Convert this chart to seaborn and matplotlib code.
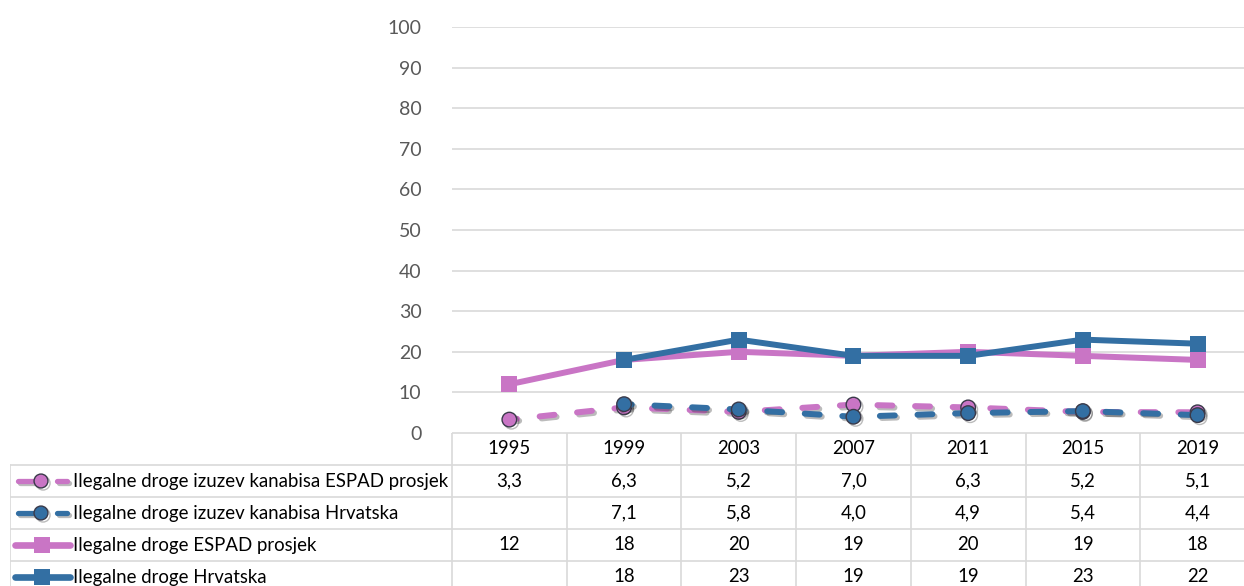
import numpy as np
import pandas as pd
import seaborn as sns
import matplotlib.pyplot as plt
from matplotlib import patheffects as pe
from matplotlib.lines import Line2D

# podaci
years = ["1995", "1999", "2003", "2007", "2011", "2015", "2019"]
espad_izuzev = [3.3, 6.3, 5.2, 7.0, 6.3, 5.2, 5.1]
hr_izuzev = [np.nan, 7.1, 5.8, 4.0, 4.9, 5.4, 4.4]
espad = [12, 18, 20, 19, 20, 19, 18]
hr = [np.nan, 18, 23, 19, 19, 23, 22]
names = ["Ilegalne droge izuzev kanabisa ESPAD prosjek",
         "Ilegalne droge izuzev kanabisa Hrvatska",
         "Ilegalne droge ESPAD prosjek",
         "Ilegalne droge Hrvatska"]

PINK = "#C975C5"
BLUE = "#336FA3"

sns.set_theme(style="white")
plt.rcParams["font.family"] = ["Lato", "DejaVu Sans"]

W, H = 1244, 586
col = 114.7
fig = plt.figure(figsize=(W / 100, H / 100), dpi=100)
ax = fig.add_axes([452 / W, (H - 433) / H, 7 * col / W, 406 / H])

df = pd.DataFrame({"x": range(len(years)), "a": espad_izuzev, "b": hr_izuzev,
                   "c": espad, "d": hr})

shadow = [pe.SimpleLineShadow(offset=(1.5, -1.5), alpha=0.3, shadow_color="#202020"),
          pe.Normal()]
dash = (1.2, (2.5, 3.8))

series = [("a", PINK, "o", True), ("b", BLUE, "o", True),
          ("c", PINK, "s", False), ("d", BLUE, "s", False)]
for key, color, mk, dashed in series:
    if dashed:
        sns.lineplot(data=df, x="x", y=key, ax=ax, color=color, lw=4.3,
                     linestyle=dash, dash_capstyle="round", marker=mk, markersize=10.5,
                     markeredgecolor="#3a3a4a", markeredgewidth=1.0,
                     path_effects=shadow)
    else:
        sns.lineplot(data=df, x="x", y=key, ax=ax, color=color, lw=4.3,
                     marker=mk, markersize=11.5, markeredgecolor=color,
                     markeredgewidth=0)

ax.set_xlim(-0.5, 6.5)
ax.set_ylim(0, 100)
ax.set_yticks(range(0, 101, 10))
ax.set_xticks([])
ax.set_xlabel("")
ax.set_ylabel("")
ax.yaxis.grid(True, color="#D9D9D9", lw=1.2)
for s in ax.spines.values():
    s.set_visible(False)
ax.tick_params(axis="y", length=0, pad=22, labelsize=14, labelcolor="#595959")

# tablica ispod grafa
tab = fig.add_axes([10 / W, (H - 593) / H, (442 + 7 * col) / W, 160 / H])
x_left = -0.5 - 442 / col
tab.set_xlim(x_left, 6.5)
tab.set_ylim(5, 0)
tab.axis("off")
gc = "#D9D9D9"
tab.plot([-0.5, 6.5], [0, 0], color=gc, lw=1.2)
for r in range(1, 5):
    tab.plot([x_left, 6.5], [r, r], color=gc, lw=1.2)
for k in range(-1, 7):
    tab.plot([k + 0.5, k + 0.5], [0, 5], color=gc, lw=1.2)
tab.plot([x_left, x_left], [1, 5], color=gc, lw=1.2)

fs = 13.4
for i, y in enumerate(years):
    tab.text(i, 0.5, y, ha="center", va="center", fontsize=fs, color="black")

rows = [espad_izuzev, hr_izuzev, espad, hr]
for r, vals in enumerate(rows):
    for i, v in enumerate(vals):
        if np.isnan(v):
            continue
        txt = f"{v:.1f}".replace(".", ",") if r < 2 else f"{v:.0f}"
        tab.text(i, r + 1.5, txt, ha="center", va="center", fontsize=fs, color="black")


def px(p):
    return x_left + (p - 10) / col


for r, (key, color, mk, dashed) in enumerate(series):
    yy = r + 1.5
    tab.text(px(73), yy, names[r], ha="left", va="center", fontsize=fs, color="black")
    if dashed:
        tab.add_line(Line2D([px(18), px(37)], [yy, yy], color=color, lw=3.8,
                            solid_capstyle="round", path_effects=shadow))
        tab.add_line(Line2D([px(57), px(67)], [yy, yy], color=color, lw=3.8,
                            solid_capstyle="round", path_effects=shadow))
        tab.add_line(Line2D([px(41)], [yy], color=color, marker=mk, markersize=10,
                            markeredgecolor="#3a3a4a", markeredgewidth=1.0,
                            path_effects=shadow))
    else:
        tab.add_line(Line2D([px(15), px(70)], [yy, yy], color=color, lw=4.8,
                            solid_capstyle="round"))
        tab.add_line(Line2D([px(42)], [yy], color=color, marker=mk, markersize=11.5,
                            markeredgewidth=0))

fig.savefig("out.png", dpi=100)
